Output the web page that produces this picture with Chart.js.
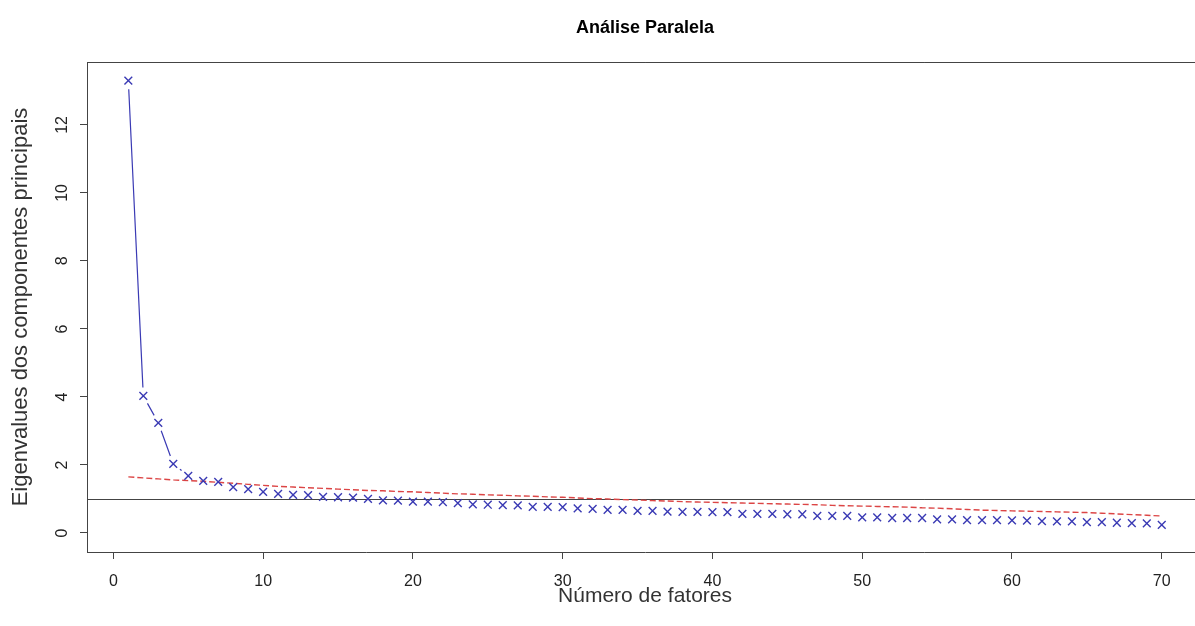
<!DOCTYPE html>
<html>
<head>
<meta charset="utf-8">
<title>Análise Paralela</title>
<script src="https://cdn.jsdelivr.net/npm/chart.js@4.4.0/dist/chart.umd.min.js"></script>
<style>
    html, body { margin: 0; padding: 0; overflow: hidden; background: #fff; }
    #wrap { width: 1210px; height: 626px; }
</style>
</head>
<body>
<div id="wrap"><canvas id="grafico" width="1210" height="626"></canvas></div>
<script>
// Autovalores observados (x azul)
const autovalores = [
    13.30, 4.03, 3.24, 2.03, 1.68, 1.53, 1.50, 1.35, 1.29, 1.21,
    1.15, 1.12, 1.11, 1.06, 1.05, 1.04, 1.00, 0.96, 0.95, 0.92,
    0.92, 0.91, 0.88, 0.84, 0.83, 0.82, 0.81, 0.77, 0.77, 0.76,
    0.72, 0.71, 0.68, 0.68, 0.65, 0.65, 0.63, 0.62, 0.62, 0.61,
    0.61, 0.56, 0.56, 0.56, 0.55, 0.55, 0.50, 0.50, 0.50, 0.46,
    0.46, 0.44, 0.44, 0.44, 0.40, 0.40, 0.38, 0.38, 0.38, 0.37,
    0.36, 0.35, 0.34, 0.34, 0.32, 0.32, 0.30, 0.29, 0.28, 0.24
];

// Autovalores simulados (linha vermelha tracejada)
const simulados = [
    1.65, 1.62, 1.59, 1.56, 1.54, 1.52, 1.49, 1.46, 1.43, 1.40,
    1.37, 1.35, 1.33, 1.31, 1.29, 1.27, 1.25, 1.24, 1.22, 1.21,
    1.19, 1.17, 1.15, 1.14, 1.12, 1.11, 1.09, 1.08, 1.06, 1.05,
    1.03, 1.01, 1.00, 0.98, 0.97, 0.95, 0.94, 0.92, 0.91, 0.90,
    0.89, 0.88, 0.87, 0.86, 0.85, 0.84, 0.83, 0.81, 0.80, 0.79,
    0.78, 0.77, 0.76, 0.74, 0.73, 0.71, 0.69, 0.67, 0.66, 0.65,
    0.64, 0.63, 0.62, 0.61, 0.60, 0.58, 0.56, 0.54, 0.52, 0.50
];

const fatores = autovalores.map((_, i) => i + 1);
const linhaReferencia = 1;

const fonte = "'Liberation Sans', Arial, Helvetica, sans-serif";
const corAzul = '#3a3ab4';
const corVermelha = '#dc4545';
const corEixo = '#444';

// Moldura, linha h = 1, segmentos com intervalo (type = "b") e título
const moldura = {
    id: 'moldura',
    beforeDatasetsDraw(chart) {
        const { ctx, chartArea: a, scales: { y } } = chart;
        ctx.save();
        ctx.strokeStyle = corEixo;
        ctx.lineWidth = 1;
        ctx.beginPath();
        ctx.moveTo(a.left, a.top + 0.5);
        ctx.lineTo(a.right, a.top + 0.5);
        const yRef = Math.round(y.getPixelForValue(linhaReferencia)) + 0.5;
        ctx.moveTo(a.left, yRef);
        ctx.lineTo(a.right, yRef);
        ctx.stroke();
        ctx.restore();
    },
    afterDatasetsDraw(chart) {
        const ctx = chart.ctx;
        const pts = chart.getDatasetMeta(0).data;
        const gap = 8.5;
        ctx.save();
        ctx.strokeStyle = corAzul;
        ctx.lineWidth = 1.2;
        ctx.beginPath();
        for (let i = 1; i < pts.length; i++) {
            const p0 = pts[i - 1], p1 = pts[i];
            const dx = p1.x - p0.x, dy = p1.y - p0.y;
            const len = Math.hypot(dx, dy);
            if (len <= 2 * gap) continue;
            const ux = dx / len, uy = dy / len;
            ctx.moveTo(p0.x + ux * gap, p0.y + uy * gap);
            ctx.lineTo(p1.x - ux * gap, p1.y - uy * gap);
        }
        ctx.stroke();
        ctx.restore();
    },
    afterDraw(chart) {
        const { ctx, chartArea: a } = chart;
        ctx.save();
        ctx.font = 'bold 18px ' + fonte;
        ctx.fillStyle = '#000';
        ctx.textAlign = 'center';
        ctx.textBaseline = 'middle';
        ctx.fillText('Análise Paralela', (a.left + a.right) / 2, 28);
        ctx.restore();
    }
};

new Chart(document.getElementById('grafico'), {
    type: 'scatter',
    data: {
        datasets: [
            {
                label: 'Observados',
                data: fatores.map((f, i) => ({ x: f, y: autovalores[i] })),
                showLine: false,
                pointStyle: 'crossRot',
                pointRadius: 5.5,
                pointBorderWidth: 1.4,
                pointBorderColor: corAzul,
                borderColor: corAzul,
                backgroundColor: 'transparent'
            },
            {
                label: 'Simulados',
                data: fatores.map((f, i) => ({ x: f, y: simulados[i] })),
                showLine: true,
                borderColor: corVermelha,
                borderWidth: 1.4,
                borderDash: [6, 3],
                pointRadius: 0,
                fill: false,
                tension: 0
            }
        ]
    },
    options: {
        responsive: false,
        animation: false,
        layout: { padding: { top: 62, right: 5, left: 0, bottom: 0 } },
        plugins: {
            legend: { display: false },
            tooltip: { enabled: false }
        },
        scales: {
            x: {
                type: 'linear',
                min: -1.76,
                max: 72.76,
                afterFit: (s) => { s.height = 74; },
                ticks: {
                    stepSize: 10,
                    includeBounds: false,
                    padding: 13,
                    color: '#222',
                    font: { family: fonte, size: 16 }
                },
                grid: { drawOnChartArea: false, tickLength: 7, color: corEixo },
                border: { display: true, color: corEixo },
                title: {
                    display: true,
                    text: 'Número de fatores',
                    color: '#333',
                    font: { family: fonte, size: 21 },
                    padding: { top: 0, bottom: 17 }
                }
            },
            y: {
                type: 'linear',
                min: -0.56,
                max: 13.85,
                afterFit: (s) => { s.width = 87; },
                ticks: {
                    stepSize: 2,
                    includeBounds: false,
                    minRotation: 90,
                    maxRotation: 90,
                    crossAlign: 'center',
                    padding: 9,
                    color: '#222',
                    font: { family: fonte, size: 16 }
                },
                grid: { drawOnChartArea: false, tickLength: 7, color: corEixo },
                border: { display: true, color: corEixo },
                title: {
                    display: true,
                    text: 'Eigenvalues dos componentes principais',
                    color: '#333',
                    font: { family: fonte, size: 22 },
                    padding: { top: 8, bottom: 0 }
                }
            }
        }
    },
    plugins: [moldura]
});
</script>
</body>
</html>
